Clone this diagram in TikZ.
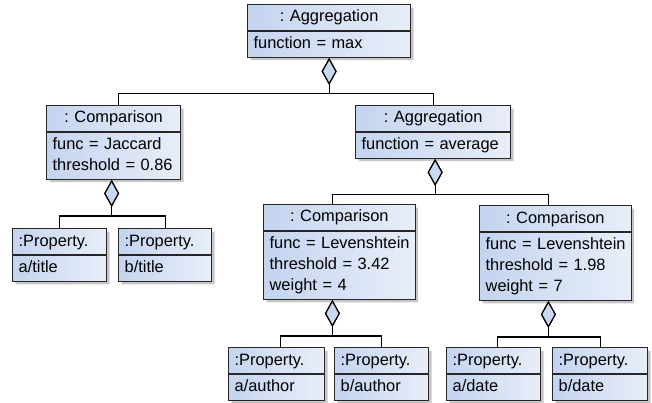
\documentclass[tikz,border=0pt]{standalone}
\usepackage{fontspec}
\setmainfont{Liberation Sans}
\usetikzlibrary{shapes.multipart,shadows,arrows.meta}
\definecolor{boxleft}{RGB}{196,212,239}
\definecolor{boxright}{RGB}{232,238,249}
\definecolor{diafill}{RGB}{200,216,240}
\newcommand\objtitle[1]{\hbox to\linewidth{\hss\strut#1\hss}}
\tikzset{
  obj/.style={rectangle split, rectangle split parts=2, draw=black!85,
    line width=1.3pt, left color=boxleft, right color=boxright,
    drop shadow={shadow xshift=3pt, shadow yshift=-3pt, opacity=0.45},
    anchor=north west, inner xsep=6pt, inner ysep=2pt, align=left,
    font=\fontsize{16.4}{21}\selectfont\frenchspacing},
  aggr/.style={line width=1.2pt, -{Diamond[length=27pt,width=15pt,fill=diafill]}}
}
\begin{document}
\begin{tikzpicture}[x=1pt,y=-1pt]
      \useasboundingbox (0,0) rectangle (652,403);
      % objects
      \node[obj,text width=151pt] (aggmax) at (247,4) {\nodepart{one}\objtitle{: Aggregation}\nodepart{two}\strut function = max};
      \node[obj,text width=122pt] (cmpjac) at (46,105) {\nodepart{one}\objtitle{: Comparison}\nodepart{two}\strut func = Jaccard\\threshold = 0.86\strut};
      \node[obj,text width=143pt] (aggavg) at (355,105) {\nodepart{one}\objtitle{: Aggregation}\nodepart{two}\strut function = average};
      \node[obj,text width=139.5pt] (cmplev) at (263,204) {\nodepart{one}\objtitle{: Comparison}\nodepart{two}\strut\mbox{func = Levenshtein}\\threshold = 3.42\\weight = 4\strut};
      \node[obj,text width=139.5pt] (cmpdat) at (479,205) {\nodepart{one}\objtitle{: Comparison}\nodepart{two}\strut\mbox{func = Levenshtein}\\threshold = 1.98\\weight = 7\strut};
      % properties
      \node[obj,text width=82pt] (atitle) at (12,228) {\nodepart{one}\strut :Property.\nodepart{two}\strut a/title};
      \node[obj,text width=81pt] (btitle) at (118,228) {\nodepart{one}\strut :Property.\nodepart{two}\strut b/title};
      \node[obj,text width=84pt] (aauthor) at (228,347) {\nodepart{one}\strut :Property.\nodepart{two}\strut a/author};
      \node[obj,text width=82pt] (bauthor) at (334,347) {\nodepart{one}\strut :Property.\nodepart{two}\strut b/author};
      \node[obj,text width=82pt] (adate) at (446,347) {\nodepart{one}\strut :Property.\nodepart{two}\strut a/date};
      \node[obj,text width=83pt] (bdate) at (552,347) {\nodepart{one}\strut :Property.\nodepart{two}\strut b/date};
      % aggregation links
      \draw[aggr] ([xshift=5pt]cmpjac.north) |- ([yshift=-36pt]aggmax.south) -- (aggmax.south);
      \draw[aggr] (aggavg.north) |- ([yshift=-36pt]aggmax.south) -- (aggmax.south);
      \draw[aggr] (atitle.north) |- ([yshift=-36pt,xshift=-2pt]cmpjac.south) -- ([xshift=-2pt]cmpjac.south);
      \draw[aggr] (btitle.north) |- ([yshift=-36pt,xshift=-2pt]cmpjac.south) -- ([xshift=-2pt]cmpjac.south);
      \draw[aggr] ([xshift=-7pt]cmplev.north) |- ([yshift=-36pt,xshift=2pt]aggavg.south) -- ([xshift=2pt]aggavg.south);
      \draw[aggr] ([xshift=-7pt]cmpdat.north) |- ([yshift=-36pt,xshift=2pt]aggavg.south) -- ([xshift=2pt]aggavg.south);
      \draw[aggr] ([xshift=4pt]aauthor.north) |- ([yshift=-36pt,xshift=-7pt]cmplev.south) -- ([xshift=-7pt]cmplev.south);
      \draw[aggr] (bauthor.north) |- ([yshift=-36pt,xshift=-7pt]cmplev.south) -- ([xshift=-7pt]cmplev.south);
      \draw[aggr] ([xshift=4pt]adate.north) |- ([yshift=-36pt,xshift=-7pt]cmpdat.south) -- ([xshift=-7pt]cmpdat.south);
      \draw[aggr] (bdate.north) |- ([yshift=-36pt,xshift=-7pt]cmpdat.south) -- ([xshift=-7pt]cmpdat.south);
    \end{tikzpicture}
\end{document}
